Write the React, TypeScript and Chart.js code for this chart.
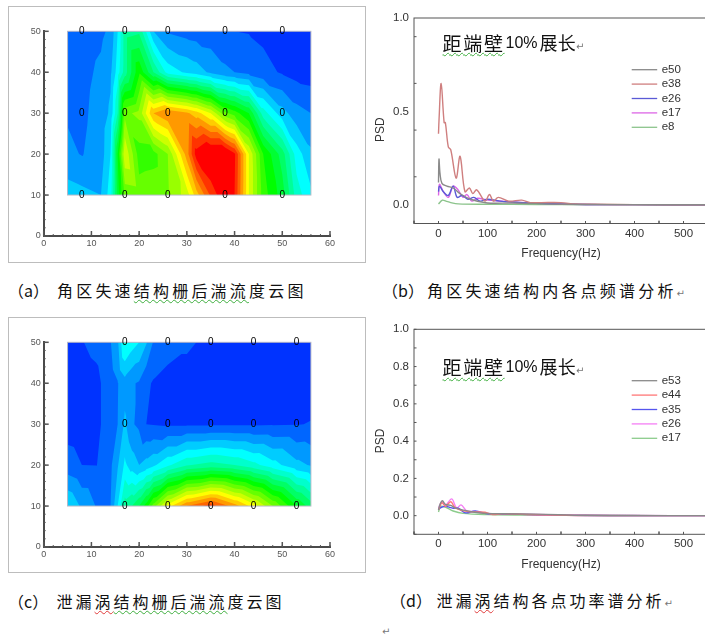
import React, { useEffect, useRef } from "react";
import { Chart, registerables } from "chart.js";

Chart.register(...registerables);

// ---- contour data (band value: 0 blue .. 5 cyan .. 10 green .. 15 yellow .. 20 red)
const contourRowsY = [10, 20, 30, 40, 50];
const aCols = [5, 8, 12, 14, 15.5, 17, 20, 23, 26, 30, 32, 35, 38, 40, 43, 46, 50, 53, 56];
const aRow10 = [4.5, 4.3, 4, 5.5, 9.5, 12.3, 12.5, 12.7, 12.9, 14.5, 16.5, 19.2, 21, 20, 15, 11.5, 9.5, 6.5, 5.2];
const aRow20 = [3.2, 2.95, 3.5, 5, 10, 14.9, 11.5, 11.6, 13, 17.5, 20.5, 21.5, 21.5, 20.2, 15, 11, 8.5, 5.5, 4.2];
const aRow30 = [2.9, 2.8, 3.4, 4.2, 7, 12.7, 13.3, 17, 18, 17.2, 16.5, 15, 12.3, 11.5, 10, 6.5, 4.4, 3.4, 3.0];
const aRow40 = [2.5, 2.7, 3.2, 3.8, 5.5, 7.5, 10.8, 8, 5.6, 4.8, 4.5, 3.8, 3.2, 3, 2.7, 2.3, 1.9, 1.6, 1.5];
const aRow50 = [2.4, 2.5, 2.8, 3.2, 5, 7.5, 7.8, 4, 2.9, 2.6, 2.5, 2.4, 2.2, 2.0, 1.95, 1.8, 1.6, 1.5, 1.5];
const aProbeX = [8, 17, 26, 38, 50];

const cCols = [5, 8, 11, 12, 14, 15.5, 17, 18.5, 20, 21.5, 23, 26, 30, 35, 40, 44, 48, 53, 56];
const cRow10 = [5, 3.8, 2.95, 2.95, 3, 5, 7.5, 8, 9, 10.5, 12.5, 15.5, 18, 19.5, 17.5, 15.5, 13, 10, 8.5];
const cRow20 = [2.4, 2.0, 1.98, 2.1, 2.8, 3.9, 5.2, 4.5, 4.0, 4.4, 4.8, 5.8, 6.9, 7.4, 7, 6.3, 5.4, 4.3, 3.9];
const cRow30 = [1.6, 1.5, 1.6, 2, 2.5, 3, 4.2, 3.1, 2.8, 2.0, 1.95, 1.85, 1.85, 1.85, 1.85, 1.85, 1.9, 1.95, 2.05];
const cRow40 = [1.5, 1.5, 1.7, 2.0, 2.6, 2.95, 3.6, 3.1, 2.9, 2.2, 1.9, 1.5, 1.5, 1.5, 1.5, 1.5, 1.5, 1.5, 1.5];
const cRow50 = [1.8, 1.95, 2.3, 2.4, 2.95, 3.8, 6.2, 5.5, 5, 4.1, 2.9, 2.6, 2.2, 1.7, 1.5, 1.5, 1.5, 1.5, 1.5];
const cProbeX = [17, 26, 35, 44, 53];
const probeRowsY = [10, 30, 50];

// ---- PSD panel (b)
const e50Hz = [0, 1, 3, 7, 17, 30, 44, 65, 100, 150, 250, 350, 550];
const e50Val = [0.12, 0.245, 0.17, 0.115, 0.1, 0.09, 0.06, 0.03, 0.01, 0.01, 0.003, 0.001, 0];
const e38Hz = [0, 1, 5.4, 11.5, 14, 20, 25, 36, 44, 54, 63, 70, 78, 95, 104, 112, 122, 143, 170, 187, 210, 250, 280, 320, 400, 550];
const e38Val = [0.38, 0.45, 0.65, 0.44, 0.44, 0.31, 0.295, 0.143, 0.26, 0.07, 0.09, 0.06, 0.08, 0.02, 0.055, 0.02, 0.04, 0.02, 0.025, 0.012, 0.012, 0.012, 0.004, 0.003, 0.001, 0];
const e26bHz = [0, 2, 10, 20, 30, 38, 48, 60, 72, 85, 100, 125, 150, 200, 300, 400, 550];
const e26bVal = [0.07, 0.1, 0.07, 0.05, 0.1, 0.04, 0.05, 0.03, 0.04, 0.02, 0.03, 0.02, 0.015, 0.008, 0.002, 0.001, 0];
const e17bHz = [0, 2, 10, 20, 30, 40, 50, 58, 68, 80, 100, 130, 150, 200, 300, 400, 550];
const e17bVal = [0.05, 0.11, 0.07, 0.04, 0.1, 0.08, 0.04, 0.055, 0.02, 0.035, 0.025, 0.02, 0.015, 0.01, 0.002, 0.001, 0];
const e8Hz = [0, 8, 15, 25, 40, 100, 200, 400, 550];
const e8Val = [0.005, 0.025, 0.02, 0.012, 0.005, 0.003, 0.002, 0.001, 0];

// ---- PSD panel (d)
const e53Hz = [0, 3, 8, 14, 25, 35, 50, 70, 100, 130, 200, 300, 400, 550];
const e53Val = [0.03, 0.06, 0.08, 0.06, 0.055, 0.04, 0.03, 0.02, 0.012, 0.01, 0.008, 0.002, 0.001, 0];
const e44Hz = [0, 7, 14, 25, 33, 45, 60, 75, 95, 110, 130, 200, 300, 550];
const e44Val = [0.03, 0.07, 0.05, 0.075, 0.045, 0.03, 0.022, 0.02, 0.018, 0.006, 0.01, 0.005, 0.001, 0];
const e35Hz = [0, 6, 15, 30, 40, 55, 75, 100, 135, 200, 300, 550];
const e35Val = [0.035, 0.045, 0.05, 0.04, 0.04, 0.015, 0.025, 0.01, 0.009, 0.005, 0.001, 0];
const e26dHz = [0, 7, 14, 27, 37, 46, 58, 72, 100, 150, 200, 300, 400, 550];
const e26dVal = [0.04, 0.075, 0.055, 0.09, 0.04, 0.058, 0.025, 0.022, 0.012, 0.008, 0.006, 0.002, 0.001, 0];
const e17dHz = [0, 4, 15, 30, 50, 100, 200, 350, 550];
const e17dVal = [0.02, 0.05, 0.045, 0.025, 0.012, 0.006, 0.003, 0.001, 0];

const psdTicksB = [-0.1, 0, 0.5, 1];
const psdTicksD = [-0.1, 0, 0.2, 0.4, 0.6, 0.8, 1];

const FONT = '"Liberation Sans", Arial, sans-serif';
const CJK = '"Noto Sans CJK SC", sans-serif';

function bandColor(k: number) {
  const t = Math.min(1, k / 20) * 4;
  const s = Math.floor(Math.min(t, 3.999));
  const f = t - s;
  const stops = [[0, 0, 255], [0, 255, 255], [0, 255, 0], [255, 255, 0], [255, 0, 0]];
  const c = stops[s].map((v, i) => Math.round(v + (stops[s + 1][i] - v) * f));
  return `rgb(${c[0]},${c[1]},${c[2]})`;
}

type P = [number, number, number];
function clip(tri: P[], level: number) {
  const out: P[] = [];
  for (let i = 0; i < tri.length; i++) {
    const a = tri[i], b = tri[(i + 1) % tri.length];
    const ina = a[2] >= level, inb = b[2] >= level;
    if (ina) out.push(a);
    if (ina !== inb) {
      const t = (level - a[2]) / (b[2] - a[2]);
      out.push([a[0] + (b[0] - a[0]) * t, a[1] + (b[1] - a[1]) * t, level]);
    }
  }
  return out;
}

const contourPlugin = {
  id: "contourBands",
  beforeDatasetsDraw(chart: any, _a: any, opts: any) {
    if (!opts.cols) return;
    const { ctx, scales } = chart;
    const { cols, rows, rowsY, flip } = opts;
    const tris: P[][] = [];
    const pt = (j: number, i: number): P => [scales.x.getPixelForValue(cols[i]), scales.y.getPixelForValue(rowsY[j]), rows[j][i]];
    for (let j = 0; j < rowsY.length - 1; j++)
      for (let i = 0; i < cols.length - 1; i++) {
        const a = pt(j, i), b = pt(j, i + 1), c = pt(j + 1, i + 1), d = pt(j + 1, i);
        if (flip) tris.push([a, b, d], [b, c, d]);
        else tris.push([a, b, c], [a, c, d]);
      }
    ctx.save();
    for (let k = 0; k <= 20; k++) {
      ctx.beginPath();
      for (const t of tris) {
        const poly = clip(t, k);
        if (poly.length < 3) continue;
        ctx.moveTo(poly[0][0], poly[0][1]);
        for (let q = 1; q < poly.length; q++) ctx.lineTo(poly[q][0], poly[q][1]);
        ctx.closePath();
      }
      ctx.fillStyle = bandColor(k);
      ctx.fill();
    }
    const x0 = scales.x.getPixelForValue(cols[0]), x1 = scales.x.getPixelForValue(cols[cols.length - 1]);
    const y0 = scales.y.getPixelForValue(rowsY[0]), y1 = scales.y.getPixelForValue(rowsY[rowsY.length - 1]);
    ctx.strokeStyle = "#b8bcc8";
    ctx.lineWidth = 1;
    ctx.strokeRect(x0, y1, x1 - x0, y0 - y1);
    ctx.restore();
  },
  afterDatasetsDraw(chart: any, _a: any, opts: any) {
    if (!opts.cols) return;
    const { ctx } = chart;
    const meta = chart.getDatasetMeta(0);
    ctx.save();
    ctx.fillStyle = "#000";
    ctx.font = `10px ${FONT}`;
    ctx.textAlign = "center";
    ctx.textBaseline = "middle";
    meta.data.forEach((el: any, i: number) => {
      ctx.fillText(chart.data.datasets[0].data[i].label, el.x, el.y);
    });
    ctx.restore();
  },
};

const axisPlugin = {
  id: "axisDecor",
  afterDraw(chart: any, _a: any, o: any) {
    const { ctx, scales, chartArea: ca } = chart;
    ctx.save();
    ctx.strokeStyle = o.color;
    if (o.frame) {
      ctx.lineWidth = 1;
      ctx.strokeRect(ca.left, ca.top, ca.right - ca.left, ca.bottom - ca.top);
    }
    const draw = (ax: any, step: number, len: number, lw: number) => {
      const s = scales[ax];
      ctx.lineWidth = lw;
      const n = Math.round((s.max - s.min) / step);
      for (let i = 0; i <= n; i++) {
        const v = s.min + i * step;
        const p = s.getPixelForValue(v);
        ctx.beginPath();
        if (ax === "x") {
          ctx.moveTo(p, ca.bottom);
          ctx.lineTo(p, ca.bottom - len);
        } else {
          ctx.moveTo(ca.left, p);
          ctx.lineTo(ca.left + len, p);
        }
        ctx.stroke();
      }
    };
    draw("x", o.xMinor, o.minorLen, 1);
    draw("x", o.xMajor, o.majorLen, o.frame ? 1 : 1.5);
    draw("y", o.yMinor, o.minorLen, 1);
    if (o.yMajor) draw("y", o.yMajor, o.majorLen, o.frame ? 1 : 1.5);
    ctx.restore();
  },
};

const legendPlugin = {
  id: "psdLegend",
  afterDraw(chart: any, _a: any, o: any) {
    if (!o.rows) return;
    const { ctx } = chart;
    ctx.save();
    ctx.font = `11.5px ${FONT}`;
    ctx.textBaseline = "middle";
    chart.data.datasets.forEach((d: any, i: number) => {
      const y = o.firstY + i * o.stepY;
      ctx.strokeStyle = d.borderColor;
      ctx.lineWidth = 1.3;
      ctx.beginPath();
      ctx.moveTo(o.x, y);
      ctx.lineTo(o.x + 25.5, y);
      ctx.stroke();
      ctx.fillStyle = "#333";
      ctx.fillText(d.label, o.x + 30, y);
    });
    ctx.translate(o.titleX, o.titleY);
    ctx.rotate(-Math.PI / 2);
    ctx.textAlign = "center";
    ctx.font = `12px ${FONT}`;
    ctx.fillStyle = "#333";
    ctx.fillText("PSD", 0, 0);
    ctx.restore();
  },
};

function zip(xs: number[], ys: number[]) {
  return xs.map((x, i) => ({ x, y: ys[i] }));
}

function contourConfig(cols: number[], rows: number[][], probes: number[], flip: boolean) {
  const pts: any[] = [];
  for (const y of probeRowsY) for (const x of probes) pts.push({ x, y, label: "0" });
  const t = 24.3, l = 33.7, rp = 34, b = 25;
  const tick = { color: "#555", font: { family: FONT, size: 9 } };
  return {
    type: "scatter",
    data: { datasets: [{ data: pts, pointRadius: 0, clip: false }] },
    options: {
      responsive: false,
      animation: false,
      layout: { autoPadding: false, padding: { top: t, right: rp, left: 0, bottom: 0 } },
      scales: {
        x: {
          type: "linear", min: 0, max: 60,
          afterFit: (s: any) => { s.height = b; },
          grid: { display: false, drawTicks: false },
          border: { color: "#4a4a4a", width: 2 },
          ticks: { ...tick, stepSize: 10, padding: 2, maxRotation: 0 },
        },
        y: {
          type: "linear", min: 0, max: 50,
          afterFit: (s: any) => { s.width = l; },
          grid: { display: false, drawTicks: false },
          border: { color: "#4a4a4a", width: 2 },
          ticks: { ...tick, stepSize: 10, padding: 3 },
        },
      },
      plugins: {
        legend: { display: false },
        tooltip: { enabled: false },
        contourBands: { cols, rows, rowsY: contourRowsY, flip },
        axisDecor: { color: "#555", xMinor: 2, xMajor: 10, yMinor: 2, yMajor: 10, minorLen: 2, majorLen: 5, frame: false },
      },
    },
    plugins: [contourPlugin, axisPlugin],
  } as any;
}

function psdConfig(sets: any[], yTicks: number[], top: number, bottom: number, canvasTop: number, legendY: number, yMajor: number) {
  const tick = { color: "#333", font: { family: FONT, size: 11.5 } };
  const H = 262;
  return {
    type: "line",
    data: {
      datasets: sets.map((s) => ({
        label: s.label, data: s.data, borderColor: s.color, borderWidth: 1.4,
        pointRadius: 0, tension: 0.35, fill: false,
      })),
    },
    options: {
      responsive: false,
      animation: false,
      layout: { autoPadding: false, padding: { top: top - canvasTop, right: 2, left: 0, bottom: 0 } },
      scales: {
        x: {
          type: "linear", min: -50, max: 550,
          afterFit: (s: any) => { s.height = canvasTop + H - bottom; },
          grid: { display: false, drawTicks: false },
          border: { display: false },
          ticks: { ...tick, stepSize: 100, padding: 3, maxRotation: 0, callback: (v: number) => (v < 0 ? "" : String(v)) },
          afterBuildTicks: (s: any) => { s.ticks = [0, 100, 200, 300, 400, 500].map((value) => ({ value })); },
          title: { display: true, text: "Frequency(Hz)", color: "#333", font: { family: FONT, size: 12 }, padding: { top: 7, bottom: 7 } },
        },
        y: {
          type: "linear", min: -0.1, max: 1,
          afterFit: (s: any) => { s.width = 42; },
          grid: { display: false, drawTicks: false },
          border: { display: false },
          afterBuildTicks: (s: any) => { s.ticks = yTicks.filter((v) => v >= 0).map((value) => ({ value })); },
          ticks: { ...tick, padding: 5, callback: (v: number) => v.toFixed(1) },
        },
      },
      plugins: {
        legend: { display: false },
        tooltip: { enabled: false },
        axisDecor: { color: "#555", xMinor: 50, xMajor: 100, yMinor: yMajor / 2, yMajor: 0, minorLen: 2.5, majorLen: 3, frame: true },
        psdLegend: { rows: sets.length, x: 631.7 - 372, firstY: legendY - canvasTop, stepY: 14.4, titleX: 8.7, titleY: (top + bottom) / 2 + 9 - canvasTop },
      },
    },
    plugins: [axisPlugin, legendPlugin],
  } as any;
}

function Panel({ config, left, top, width, height }: any) {
  const ref = useRef<HTMLCanvasElement>(null);
  useEffect(() => {
    const c = new Chart(ref.current!, config);
    return () => c.destroy();
  }, []);
  return <canvas ref={ref} width={width} height={height} style={{ position: "absolute", left, top, width, height }} />;
}

function T({ x, y, size = 16, ls = 0, children, font = CJK, color = "#111" }: any) {
  return (
    <span style={{ position: "absolute", left: x, top: y, transform: "translateY(-50%)", fontFamily: font, fontSize: size, letterSpacing: ls, color, whiteSpace: "nowrap", lineHeight: 1.2 }}>
      {children}
    </span>
  );
}

const Sq = ({ c, children }: any) => (
  <span style={{ textDecoration: `underline wavy ${c} 1px`, textUnderlineOffset: 2 }}>{children}</span>
);

const box = { position: "absolute", left: 8, width: 358, border: "1px solid #bdbdbd", boxSizing: "border-box", background: "#fff" } as any;
const Ret = () => <span style={{ color: "#777", fontSize: 10, fontFamily: '"DejaVu Sans"', letterSpacing: 0 }}>↵</span>;

function Note({ y }: { y: number }) {
  return (
    <>
      <T x={442.5} y={y} size={19} ls={1.7}><Sq c="#3fae3f">距端壁</Sq></T>
      <T x={505.5} y={y} size={16} font={FONT}>10%</T>
      <T x={539.5} y={y} size={18} ls={0.3}>展长<Ret /></T>
    </>
  );
}

export default function App() {
  const panelA = contourConfig(aCols, [aRow10, aRow20, aRow30, aRow40, aRow50], aProbeX, true);
  const panelC = contourConfig(cCols, [cRow10, cRow20, cRow30, cRow40, cRow50], cProbeX, false);
  const panelB = psdConfig(
    [
      { label: "e50", color: "#8a8a8a", data: zip(e50Hz, e50Val) },
      { label: "e38", color: "#cf7f7f", data: zip(e38Hz, e38Val) },
      { label: "e26", color: "#5a5ad6", data: zip(e26bHz, e26bVal) },
      { label: "e17", color: "#dd66e6", data: zip(e17bHz, e17bVal) },
      { label: "e8", color: "#8cc48c", data: zip(e8Hz, e8Val) },
    ], psdTicksB, 18, 223.5, 6, 69.7, 0.5);
  const panelD = psdConfig(
    [
      { label: "e53", color: "#8a8a8a", data: zip(e53Hz, e53Val) },
      { label: "e44", color: "#f77", data: zip(e44Hz, e44Val) },
      { label: "e35", color: "#5555ee", data: zip(e35Hz, e35Val) },
      { label: "e26", color: "#f47ff4", data: zip(e26dHz, e26dVal) },
      { label: "e17", color: "#8ccc8c", data: zip(e17dHz, e17dVal) },
    ], psdTicksD, 329.3, 534.3, 317, 380.7, 0.2);

  return (
    <div style={{ position: "absolute", left: 0, top: 0, width: 705, height: 634, overflow: "hidden", background: "#fff", filter: "blur(0.45px)" }}>
      <div style={{ ...box, top: 5.5, height: 257 }} />
      <div style={{ ...box, top: 316.5, height: 256 }} />
      <Panel config={panelA} left={10} top={7} width={354} height={254} />
      <Panel config={panelC} left={10} top={318} width={354} height={254} />
      <Panel config={panelB} left={372} top={6} width={338} height={262} />
      <Panel config={panelD} left={372} top={317} width={338} height={262} />

      <Note y={42.7} />
      <Note y={367.3} />

      <T x={8} y={290.5}>（a）</T>
      <T x={57} y={290.5} ls={3.2}>角区失速<Sq c="#3fae3f">结构栅后湍流</Sq>度云图</T>
      <T x={382} y={290.5}>（b）</T>
      <T x={427} y={290.5} ls={3.2}>角区失速结构内各点频谱分析<Ret /></T>
      <T x={8} y={601.5}>（c）</T>
      <T x={56.5} y={601.5} ls={3}>泄漏<Sq c="#e03a3a">涡</Sq><Sq c="#3fae3f">结构栅后湍流</Sq>度云图</T>
      <T x={390} y={600.5}>（d）</T>
      <T x={436.5} y={600.5} ls={3}>泄漏<Sq c="#e03a3a">涡</Sq>结构各点功率谱分析<Ret /></T>
      <T x={382} y={629}><Ret /></T>
    </div>
  );
}
